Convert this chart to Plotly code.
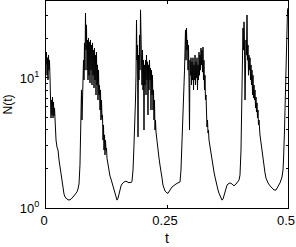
import plotly.graph_objects as go

# time (t) and population N(t)
t = [0.0, 0.0010, 0.0021, 0.0031, 0.0041, 0.0052, 0.0062, 0.0072, 0.0083, 0.0093,
     0.0103, 0.0114, 0.0124, 0.0134, 0.0145, 0.0155, 0.0165, 0.0176, 0.0186, 0.0196,
     0.0207, 0.0227, 0.0248, 0.0269, 0.0289, 0.0310, 0.0331, 0.0351, 0.0372, 0.0393,
     0.0434, 0.0475, 0.0517, 0.0558, 0.0599, 0.0640, 0.0661, 0.0682, 0.0702, 0.0713,
     0.0723, 0.0733, 0.0744, 0.0754, 0.0764, 0.0775, 0.0785, 0.0795, 0.0806, 0.0816,
     0.0826, 0.0837, 0.0847, 0.0857, 0.0868, 0.0878, 0.0888, 0.0899, 0.0909, 0.0919,
     0.0930, 0.0940, 0.0950, 0.0961, 0.0971, 0.0981, 0.0992, 0.1002, 0.1012, 0.1023,
     0.1033, 0.1043, 0.1054, 0.1064, 0.1074, 0.1085, 0.1095, 0.1105, 0.1116, 0.1126,
     0.1136, 0.1147, 0.1157, 0.1167, 0.1178, 0.1188, 0.1198, 0.1209, 0.1219, 0.1229,
     0.1240, 0.1250, 0.1260, 0.1281, 0.1302, 0.1322, 0.1343, 0.1364, 0.1384, 0.1405,
     0.1426, 0.1446, 0.1467, 0.1488, 0.1508, 0.1529, 0.1550, 0.1570, 0.1591, 0.1612,
     0.1653, 0.1694, 0.1715, 0.1736, 0.1756, 0.1777, 0.1798, 0.1818, 0.1839, 0.1849,
     0.1860, 0.1870, 0.1880, 0.1890, 0.1901, 0.1911, 0.1921, 0.1932, 0.1942, 0.1953,
     0.1963, 0.1973, 0.1983, 0.1994, 0.2004, 0.2014, 0.2025, 0.2035, 0.2045, 0.2056,
     0.2066, 0.2076, 0.2087, 0.2097, 0.2107, 0.2118, 0.2128, 0.2138, 0.2149, 0.2159,
     0.2169, 0.2180, 0.2190, 0.2200, 0.2211, 0.2221, 0.2231, 0.2242, 0.2252, 0.2262,
     0.2273, 0.2293, 0.2314, 0.2335, 0.2355, 0.2376, 0.2397, 0.2417, 0.2438, 0.2459,
     0.2479, 0.2500, 0.2521, 0.2541, 0.2562, 0.2603, 0.2645, 0.2686, 0.2727, 0.2769,
     0.2789, 0.2800, 0.2810, 0.2820, 0.2831, 0.2841, 0.2851, 0.2862, 0.2872, 0.2882,
     0.2893, 0.2903, 0.2913, 0.2924, 0.2934, 0.2944, 0.2955, 0.2965, 0.2975, 0.2986,
     0.2996, 0.3006, 0.3017, 0.3027, 0.3037, 0.3048, 0.3058, 0.3068, 0.3079, 0.3089,
     0.3099, 0.3110, 0.3120, 0.3130, 0.3140, 0.3151, 0.3161, 0.3171, 0.3182, 0.3192,
     0.3202, 0.3213, 0.3223, 0.3233, 0.3244, 0.3254, 0.3264, 0.3275, 0.3285, 0.3295,
     0.3306, 0.3326, 0.3337, 0.3347, 0.3357, 0.3368, 0.3388, 0.3409, 0.3430, 0.3450,
     0.3471, 0.3492, 0.3512, 0.3533, 0.3554, 0.3574, 0.3595, 0.3616, 0.3636, 0.3657,
     0.3678, 0.3698, 0.3719, 0.3740, 0.3760, 0.3802, 0.3843, 0.3884, 0.3926, 0.3967,
     0.3988, 0.4008, 0.4019, 0.4029, 0.4039, 0.4050, 0.4060, 0.4070, 0.4081, 0.4091,
     0.4101, 0.4112, 0.4122, 0.4132, 0.4143, 0.4153, 0.4163, 0.4174, 0.4184, 0.4194,
     0.4205, 0.4215, 0.4225, 0.4236, 0.4246, 0.4256, 0.4267, 0.4277, 0.4287, 0.4298,
     0.4308, 0.4318, 0.4329, 0.4339, 0.4349, 0.4360, 0.4370, 0.4380, 0.4390, 0.4401,
     0.4421, 0.4442, 0.4463, 0.4483, 0.4504, 0.4525, 0.4545, 0.4566, 0.4587, 0.4628,
     0.4669, 0.4711, 0.4752, 0.4793, 0.4835, 0.4876, 0.4897, 0.4907, 0.4917, 0.4928,
     0.4938, 0.4948, 0.4959, 0.4969, 0.4979, 0.4990, 0.5000]

N = [12.6, 15.8, 10.5, 14.3, 9.65, 15.0, 11.5, 13.7, 10.0, 7.14,
     4.92, 6.77, 5.19, 7.14, 4.92, 6.53, 5.10, 5.88, 4.20, 3.98,
     3.33, 2.94, 2.79, 2.34, 2.07, 1.79, 1.56, 1.375, 1.28, 1.215,
     1.17, 1.15, 1.17, 1.215, 1.26, 1.33, 1.40, 1.53, 2.14, 3.98,
     5.67, 8.09, 4.75, 9.15, 6.77, 13.7, 9.65, 18.6, 11.5, 31.6,
     16.4, 25.6, 11.5, 19.6, 9.65, 20.3, 10.5, 18.9, 9.15, 19.6,
     11.5, 17.9, 8.83, 18.6, 10.5, 16.4, 8.38, 17.0, 9.65, 15.0,
     7.40, 15.8, 8.83, 12.6, 6.77, 11.5, 7.40, 8.83, 5.67, 8.09,
     4.75, 6.77, 4.92, 5.19, 3.33, 4.35, 2.79, 3.65, 2.56, 3.33,
     2.79, 2.89, 2.42, 2.14, 1.89, 1.76, 1.67, 1.56, 1.45, 1.375,
     1.28, 1.215, 1.15, 1.19, 1.30, 1.40, 1.48, 1.53, 1.56, 1.585,
     1.61, 1.56, 1.56, 1.585, 1.56, 1.61, 1.96, 3.05, 4.75, 6.77,
     10.5, 27.9, 13.7, 17.9, 3.52, 15.0, 9.65, 21.4, 11.5, 33.4,
     13.7, 19.6, 8.83, 16.4, 8.09, 13.7, 3.98, 12.6, 8.83, 13.7,
     7.40, 15.0, 9.65, 13.3, 5.19, 12.6, 8.09, 13.7, 9.65, 11.9,
     5.67, 11.5, 7.40, 10.5, 5.67, 8.09, 4.75, 6.77, 3.98, 4.75,
     3.84, 3.16, 2.79, 2.42, 2.14, 1.96, 1.70, 1.50, 1.40, 1.35,
     1.33, 1.30, 1.30, 1.35, 1.375, 1.45, 1.50, 1.53, 1.56, 1.585,
     1.96, 2.47, 3.65, 5.19, 5.67, 7.40, 8.83, 11.5, 16.4, 23.4,
     13.7, 24.2, 16.4, 19.6, 11.5, 17.9, 9.65, 3.98, 13.7, 10.5,
     14.3, 8.83, 13.3, 9.65, 14.3, 8.09, 12.6, 9.65, 15.0, 8.83,
     13.3, 10.0, 14.3, 8.09, 12.6, 9.65, 15.8, 10.5, 15.0, 11.5,
     17.0, 12.6, 16.4, 11.1, 17.3, 9.65, 13.7, 8.09, 10.5, 6.77,
     7.40, 4.20, 4.75, 3.78, 3.98, 3.33, 2.94, 2.65, 2.34, 2.10,
     1.89, 1.73, 1.585, 1.48, 1.375, 1.30, 1.24, 1.17, 1.15, 1.17,
     1.24, 1.35, 1.45, 1.50, 1.53, 1.56, 1.53, 1.48, 1.53, 1.585,
     1.64, 1.79, 2.14, 2.79, 4.75, 8.09, 13.7, 24.2, 16.4, 27.0,
     17.9, 6.77, 11.5, 19.6, 15.0, 30.5, 13.7, 17.9, 10.5, 15.0,
     11.5, 14.3, 9.65, 12.6, 8.83, 11.5, 7.40, 10.5, 7.02, 8.83,
     6.77, 8.09, 5.88, 7.14, 5.47, 6.43, 4.92, 5.67, 4.35, 4.75,
     3.65, 3.16, 2.70, 2.34, 2.07, 1.86, 1.70, 1.61, 1.56, 1.48,
     1.43, 1.375, 1.375, 1.45, 1.56, 1.73, 1.96, 2.34, 2.79, 3.98,
     5.67, 8.83, 13.7, 19.6, 27.9, 33.4, 34.5]

x_tickvals = [0, 0.25, 0.5]
x_ticktext = ["0", "0.25", "0.5"]
y_tickvals = [1, 10]
y_ticktext = ["10<sup>0</sup>", "10<sup>1</sup>"]
y_minor_vals = [2, 3, 4, 5, 6, 7, 8, 9, 20, 30]

FONT = "Liberation Sans, Arial, Helvetica, sans-serif"

fig = go.Figure()
fig.add_trace(go.Scatter(x=t, y=N, mode="lines",
                         line=dict(color="black", width=1), showlegend=False))

fig.update_layout(
    width=296, height=247,
    margin=dict(l=46, r=8, t=1, b=39, pad=0, autoexpand=False),
    paper_bgcolor="white", plot_bgcolor="white",
    font=dict(family=FONT, size=13, color="black"),
)
fig.update_xaxes(
    range=[0, 0.5], tickvals=x_tickvals, ticktext=x_ticktext,
    ticks="inside", ticklen=3, tickcolor="black",
    showline=True, linecolor="black", linewidth=1, mirror="ticks",
    showgrid=False, zeroline=False, automargin=False,
    tickfont=dict(size=13), ticklabelshift=-2, ticklabeloverflow="allow",
    title=dict(text="t", font=dict(size=14, color="black"), standoff=6),
)
fig.update_yaxes(
    type="log", range=[0, 1.592], tickvals=y_tickvals, ticktext=y_ticktext,
    ticks="inside", ticklen=3, tickcolor="black",
    minor=dict(tickvals=y_minor_vals, ticks="inside", ticklen=2, tickcolor="black", showgrid=False),
    showline=True, linecolor="black", linewidth=1, mirror="ticks",
    showgrid=False, zeroline=False, automargin=False,
    tickfont=dict(size=13), ticklabelstandoff=3,
    title=dict(text="N(t)", font=dict(size=12, color="black"), standoff=4),
)

fig.write_html("out.html",
               config={"displayModeBar": False},
               post_script="document.body.style.margin='0';document.body.style.overflow='hidden';")
